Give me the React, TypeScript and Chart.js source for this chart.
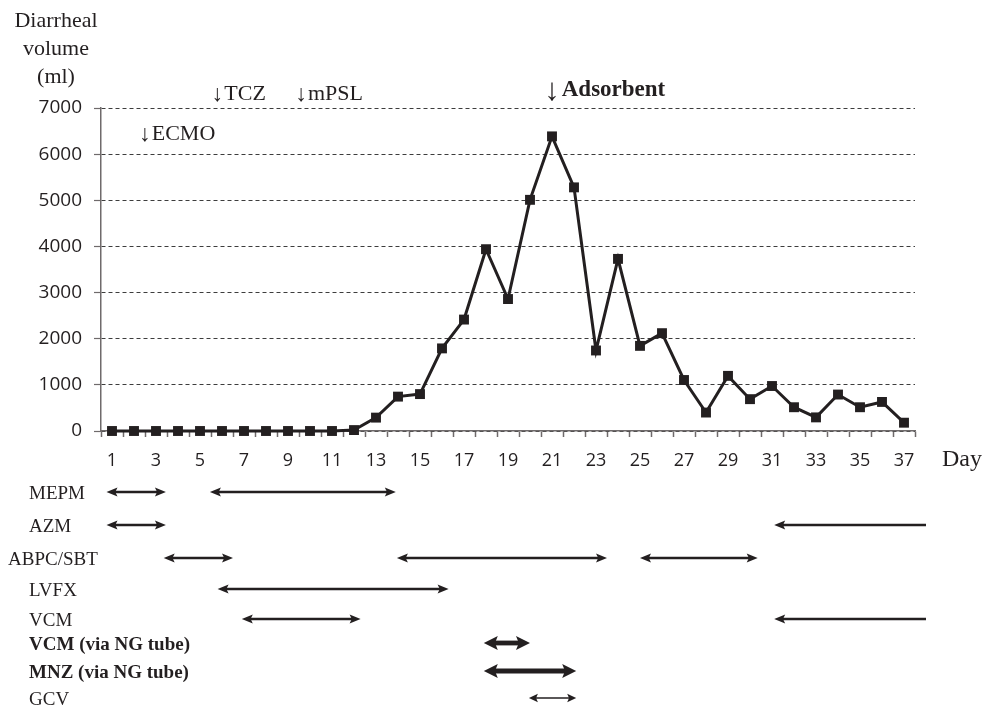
import React, { useEffect, useRef } from "react";
import { Chart, registerables } from "chart.js";

Chart.register(...registerables);

// ---------- data ----------
const DAYS = ["1","2","3","4","5","6","7","8","9","10","11","12","13","14","15","16","17","18","19","20","21","22","23","24","25","26","27","28","29","30","31","32","33","34","35","36","37"];
const VOLUME = [0,0,0,0,0,0,0,0,0,0,0,20,290,745,800,1790,2415,3940,2860,5010,6385,5280,1745,3730,1845,2120,1105,400,1195,690,975,515,295,790,515,630,180];
const Y_MAX = 7000;
const Y_STEP = 1000;
const Y_TITLE = ["Diarrheal", "volume", "(ml)"];
const X_TITLE = "Day";

const EVENT_LABELS = ["ECMO", "TCZ", "mPSL", "Adsorbent"];
const EVENT_DAYS = [2.5, 5.8, 9.6, 21];

const DRUGS = ["MEPM", "AZM", "ABPC/SBT", "LVFX", "VCM", "VCM (via NG tube)", "MNZ (via NG tube)", "GCV"];
const DRUG_BOLD = [false, false, false, false, false, true, true, false];

// courses: drug index, start day, end day, heads, weight
const COURSE_DRUG = [0, 0, 1, 1, 2, 2, 2, 3, 4, 4, 5, 6, 7];
const COURSE_START = [0.75, 5.45, 0.75, 31.1, 3.35, 13.95, 25.0, 5.8, 6.9, 31.1, 17.9, 17.9, 19.95];
const COURSE_END = [3.45, 13.9, 3.45, 38.0, 6.5, 23.5, 30.35, 16.3, 12.3, 38.0, 20.0, 22.1, 22.1];
const COURSE_HEADS = ["both", "both", "both", "left", "both", "both", "both", "both", "both", "left", "both", "both", "both"];
const COURSE_WEIGHT = ["normal", "normal", "normal", "normal", "normal", "normal", "normal", "normal", "normal", "normal", "thick", "thick", "thin"];

// ---------- style ----------
const INK = "#231f20";
const AXIS = "#6f6a6b";
const GRID = "#3d3d3d";
const SERIF = '"Liberation Serif", "Times New Roman", serif';
const SANS = '"Open Sans", "DejaVu Sans", sans-serif';

const ROW_Y = [492, 525, 558, 589, 619, 643, 671, 698];
const LABEL_X = [29, 29, 8, 29, 29, 29, 29, 29];
const ARROW_STYLE: Record<string, { lw: number; len: number; half: number }> = {
  normal: { lw: 2.6, len: 11, half: 4.6 },
  thick: { lw: 4.8, len: 14, half: 7 },
  thin: { lw: 1.7, len: 9, half: 4.2 },
};

function head(ctx: CanvasRenderingContext2D, tipX: number, y: number, dir: number, len: number, half: number) {
  // dir = -1 : tip on the left ; +1 : tip on the right
  ctx.beginPath();
  ctx.moveTo(tipX, y);
  ctx.lineTo(tipX - dir * len, y - half);
  ctx.lineTo(tipX - dir * len * 0.8, y);
  ctx.lineTo(tipX - dir * len, y + half);
  ctx.closePath();
  ctx.fill();
}

const overlayPlugin = {
  id: "overlay",
  afterDraw(chart: any) {
    const { ctx, chartArea, scales } = chart;
    const xs = scales.x;
    const dayPx = (d: number) => xs.getPixelForValue(d - 1);
    ctx.save();
    ctx.fillStyle = INK;
    ctx.strokeStyle = INK;

    // y title
    ctx.font = `22px ${SERIF}`;
    ctx.textAlign = "center";
    ctx.textBaseline = "alphabetic";
    Y_TITLE.forEach((line, i) => ctx.fillText(line, 56, 27 + i * 28));

    // x title
    ctx.font = `24px ${SERIF}`;
    ctx.textAlign = "left";
    ctx.fillText(X_TITLE, chartArea.right + 27, 466);

    // events
    EVENT_LABELS.forEach((label, i) => {
      const x = dayPx(EVENT_DAYS[i]);
      const big = label === "Adsorbent";
      const base = big ? chartArea.top - 12 : label === "ECMO" ? chartArea.top + 32 : chartArea.top - 8;
      ctx.textAlign = "center";
      ctx.font = big ? `31px ${SERIF}` : `23px ${SERIF}`;
      const aw = ctx.measureText("\u2193").width;
      ctx.fillText("\u2193", x, big ? base + 4 : base + 1);
      ctx.textAlign = "left";
      ctx.font = big ? `bold 23px ${SERIF}` : `22px ${SERIF}`;
      ctx.fillText(label, x + aw / 2 + (big ? 2 : 1), base);
    });

    // treatment labels
    DRUGS.forEach((name, i) => {
      ctx.font = `${DRUG_BOLD[i] ? "bold " : ""}19px ${SERIF}`;
      ctx.textAlign = "left";
      ctx.fillText(name, LABEL_X[i], ROW_Y[i] + 7);
    });

    // treatment arrows
    COURSE_DRUG.forEach((di, k) => {
      const y = ROW_Y[di];
      const x1 = dayPx(COURSE_START[k]);
      const x2 = dayPx(COURSE_END[k]);
      const st = ARROW_STYLE[COURSE_WEIGHT[k]];
      const both = COURSE_HEADS[k] === "both";
      ctx.lineWidth = st.lw;
      ctx.beginPath();
      ctx.moveTo(x1 + st.len * 0.6, y);
      ctx.lineTo(both ? x2 - st.len * 0.6 : x2, y);
      ctx.stroke();
      head(ctx, x1, y, -1, st.len, st.half);
      if (both) head(ctx, x2, y, 1, st.len, st.half);
    });

    ctx.restore();
  },
};

export default function App() {
  const ref = useRef<HTMLCanvasElement | null>(null);

  useEffect(() => {
    if (!ref.current) return;
    const chart = new Chart(ref.current, {
      type: "line",
      data: {
        labels: DAYS,
        datasets: [
          {
            data: VOLUME,
            borderColor: INK,
            backgroundColor: INK,
            borderWidth: 3,
            pointStyle: "rect",
            pointRadius: 7,
            pointBackgroundColor: INK,
            pointBorderColor: INK,
            pointBorderWidth: 0,
            tension: 0,
            clip: false,
          } as any,
        ],
      },
      options: {
        responsive: false,
        animation: false,
        devicePixelRatio: 1,
        layout: { padding: { top: 108, right: 68, left: 0, bottom: 0 } },
        plugins: { legend: { display: false }, tooltip: { enabled: false }, title: { display: false } },
        scales: {
          x: {
            type: "category",
            offset: true,
            grid: {
              offset: true,
              drawOnChartArea: false,
              drawTicks: true,
              tickLength: 6,
              tickColor: AXIS,
              tickWidth: 1.5,
            },
            border: { display: true, color: AXIS, width: 1.5 },
            ticks: {
              autoSkip: false,
              maxRotation: 0,
              minRotation: 0,
              padding: 13,
              color: INK,
              font: { family: SANS, size: 18 },
              callback: (_v: any, i: number) => (i % 2 === 0 ? DAYS[i] : ""),
            },
            afterFit: (s: any) => {
              s.height = 708 - 431;
              s.paddingLeft = 0;
              s.paddingRight = 0;
            },
          },
          y: {
            min: 0,
            max: Y_MAX,
            grid: {
              color: GRID,
              lineWidth: 1,
              drawTicks: true,
              tickLength: 7,
              tickColor: AXIS,
              tickWidth: 1.2,
            },
            border: { display: true, color: AXIS, width: 1.5, dash: [4, 3] },
            ticks: {
              stepSize: Y_STEP,
              padding: 12,
              color: INK,
              font: { family: SANS, size: 19 },
              callback: (v: any) => String(v),
            },
            afterFit: (s: any) => {
              s.width = 101;
              s.paddingTop = 0;
              s.paddingBottom = 0;
            },
          },
        },
      },
      plugins: [overlayPlugin],
    });
    return () => chart.destroy();
  }, []);

  return (
    <div style={{ position: "absolute", left: 0, top: 0, width: 983, height: 708, background: "#fff" }}>
      <canvas ref={ref} width={983} height={708} style={{ width: 983, height: 708, display: "block" }} />
    </div>
  );
}
